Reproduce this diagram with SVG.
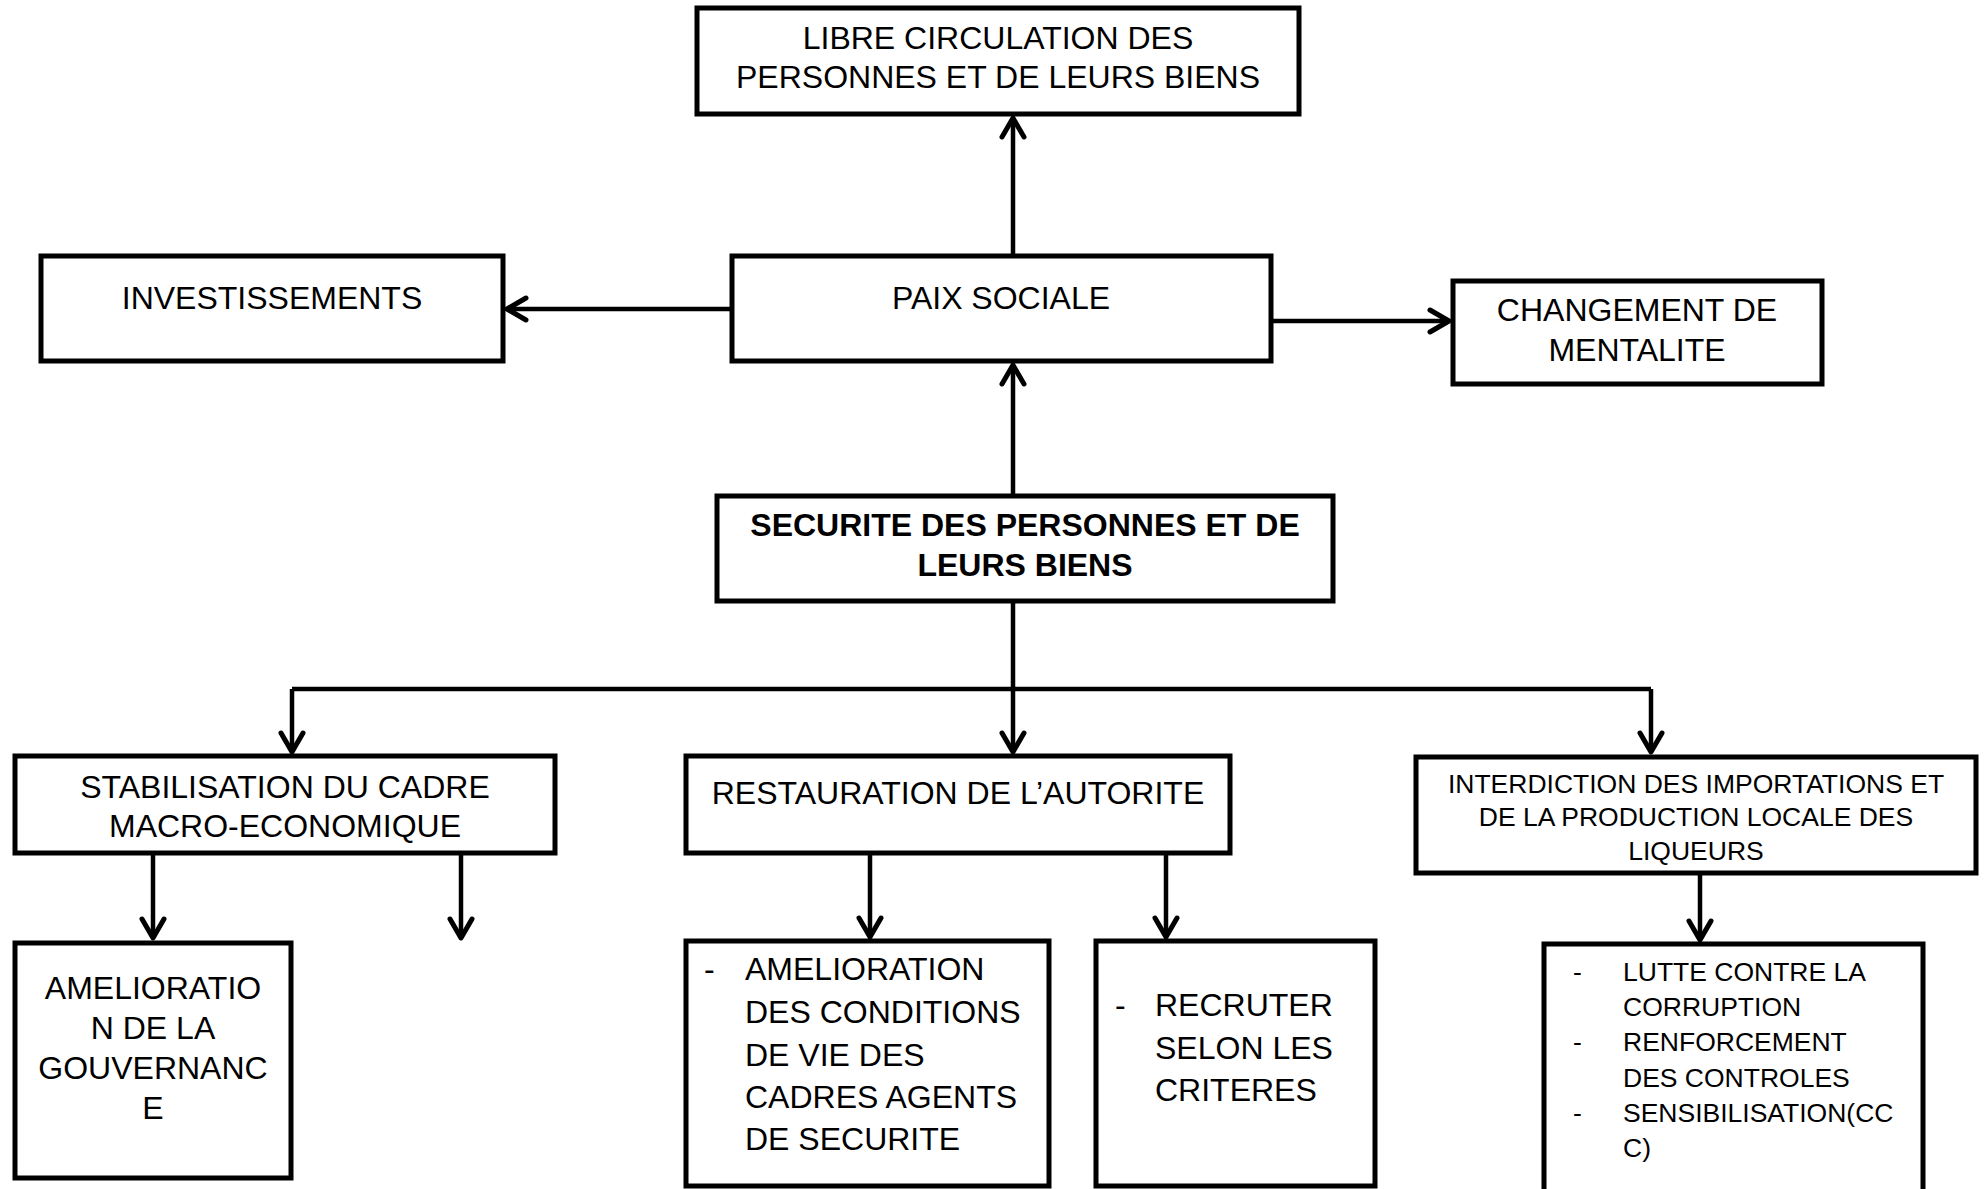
<svg xmlns="http://www.w3.org/2000/svg" width="1988" height="1189" viewBox="0 0 1988 1189">
  <defs>
    <style>
      .box { fill: #ffffff; stroke: #000000; stroke-width: 5; }
      .lbl { font-family: "Liberation Sans", Arial, sans-serif; font-size: 32px; fill: #000000; }
      .ctr { text-anchor: middle; }
      .bold { font-weight: bold; }
      .sm { font-size: 26.5px; }
      .wire { fill: none; stroke: #000000; stroke-width: 4.5; }
      .arr { marker-end: url(#chev); }
    </style>
    <marker id="chev" markerUnits="userSpaceOnUse" markerWidth="32" markerHeight="32" viewBox="-26 -16 32 32" refX="0" refY="0" orient="auto">
      <path d="M-19,-11 L0,0 L-19,11" fill="none" stroke="#000000" stroke-width="5" stroke-linecap="round" stroke-linejoin="round"/>
    </marker>
  </defs>
  <rect width="1988" height="1189" fill="#ffffff"/>

  <g id="connectors">
    <path class="wire arr" d="M1013,254 V118"/>
    <path class="wire arr" d="M1013,494 V365"/>
    <path class="wire arr" d="M730,309 H507"/>
    <path class="wire arr" d="M1273,321 H1449"/>
    <path class="wire arr" d="M1013,603 V752"/>
    <path class="wire" d="M292,689 H1651"/>
    <path class="wire arr" d="M292,689 V752"/>
    <path class="wire arr" d="M1651,689 V752"/>
    <path class="wire arr" d="M153,855 V938"/>
    <path class="wire arr" d="M461,855 V938"/>
    <path class="wire arr" d="M870,855 V937"/>
    <path class="wire arr" d="M1166,855 V937"/>
    <path class="wire arr" d="M1700,875 V940"/>
  </g>

  <g id="libre-circulation">
    <rect class="box" x="697" y="8" width="602" height="106"/>
    <text class="lbl ctr" x="998" y="49">LIBRE CIRCULATION DES</text>
    <text class="lbl ctr" x="998" y="88">PERSONNES ET DE LEURS BIENS</text>
  </g>

  <g id="investissements">
    <rect class="box" x="41" y="256" width="462" height="105"/>
    <text class="lbl ctr" x="272" y="309">INVESTISSEMENTS</text>
  </g>

  <g id="paix-sociale">
    <rect class="box" x="732" y="256" width="539" height="105"/>
    <text class="lbl ctr" x="1001" y="309">PAIX SOCIALE</text>
  </g>

  <g id="changement-mentalite">
    <rect class="box" x="1453" y="281" width="369" height="103"/>
    <text class="lbl ctr" x="1637" y="321">CHANGEMENT DE</text>
    <text class="lbl ctr" x="1637" y="361">MENTALITE</text>
  </g>

  <g id="securite">
    <rect class="box" x="717" y="496" width="616" height="105"/>
    <text class="lbl ctr bold" x="1025" y="536">SECURITE DES PERSONNES ET DE</text>
    <text class="lbl ctr bold" x="1025" y="576">LEURS BIENS</text>
  </g>

  <g id="stabilisation">
    <rect class="box" x="15" y="756" width="540" height="97"/>
    <text class="lbl ctr" x="285" y="798">STABILISATION DU CADRE</text>
    <text class="lbl ctr" x="285" y="837">MACRO-ECONOMIQUE</text>
  </g>

  <g id="restauration">
    <rect class="box" x="686" y="756" width="544" height="97"/>
    <text class="lbl ctr" x="958" y="804">RESTAURATION DE L’AUTORITE</text>
  </g>

  <g id="interdiction">
    <rect class="box" x="1416" y="757" width="560" height="116"/>
    <text class="lbl ctr sm" x="1696" y="793">INTERDICTION DES IMPORTATIONS ET</text>
    <text class="lbl ctr sm" x="1696" y="826">DE LA PRODUCTION LOCALE DES</text>
    <text class="lbl ctr sm" x="1696" y="860">LIQUEURS</text>
  </g>

  <g id="gouvernance">
    <rect class="box" x="15" y="943" width="276" height="235"/>
    <text class="lbl ctr" x="153" y="999">AMELIORATIO</text>
    <text class="lbl ctr" x="153" y="1039">N DE LA</text>
    <text class="lbl ctr" x="153" y="1079">GOUVERNANC</text>
    <text class="lbl ctr" x="153" y="1119">E</text>
  </g>

  <g id="conditions-de-vie">
    <rect class="box" x="686" y="941" width="363" height="245"/>
    <text class="lbl" x="704" y="980">-</text>
    <text class="lbl" x="745" y="980">AMELIORATION</text>
    <text class="lbl" x="745" y="1023">DES CONDITIONS</text>
    <text class="lbl" x="745" y="1066">DE VIE DES</text>
    <text class="lbl" x="745" y="1108">CADRES AGENTS</text>
    <text class="lbl" x="745" y="1150">DE SECURITE</text>
  </g>

  <g id="recrutement">
    <rect class="box" x="1096" y="941" width="279" height="245"/>
    <text class="lbl" x="1115" y="1016">-</text>
    <text class="lbl" x="1155" y="1016">RECRUTER</text>
    <text class="lbl" x="1155" y="1059">SELON LES</text>
    <text class="lbl" x="1155" y="1101">CRITERES</text>
  </g>

  <g id="mesures-liqueurs">
    <rect class="box" x="1544" y="944" width="379" height="270"/>
    <text class="lbl sm" x="1573" y="981">-</text>
    <text class="lbl sm" x="1623" y="981">LUTTE CONTRE LA</text>
    <text class="lbl sm" x="1623" y="1016">CORRUPTION</text>
    <text class="lbl sm" x="1573" y="1051">-</text>
    <text class="lbl sm" x="1623" y="1051">RENFORCEMENT</text>
    <text class="lbl sm" x="1623" y="1087">DES CONTROLES</text>
    <text class="lbl sm" x="1573" y="1122">-</text>
    <text class="lbl sm" x="1623" y="1122">SENSIBILISATION(CC</text>
    <text class="lbl sm" x="1623" y="1157">C)</text>
  </g>
</svg>
